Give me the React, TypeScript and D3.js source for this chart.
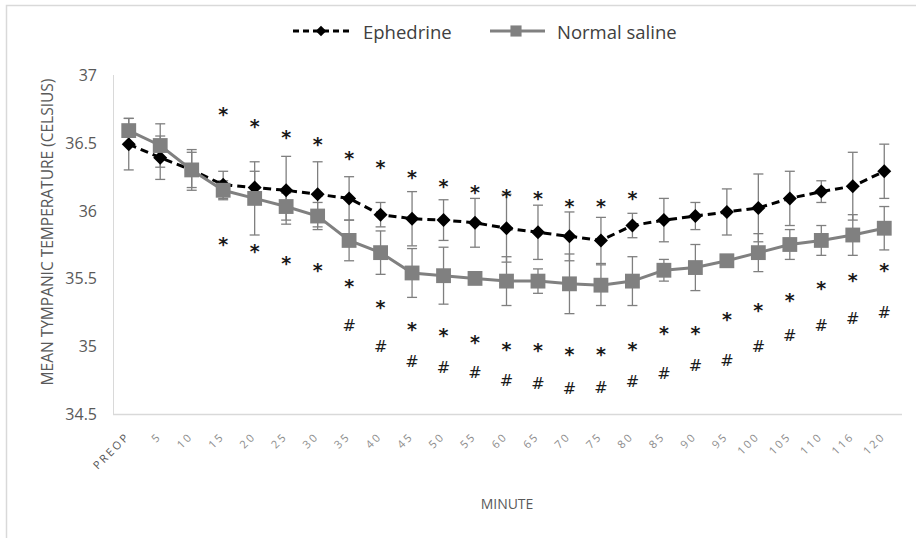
import React from "react";
import * as d3 from "d3";

const categories = ["PREOP","5","10","15","20","25","30","35","40","45","50","55","60","65","70","75","80","85","90","95","100","105","110","116","120"];
const ephedrine = [36.49,36.39,36.3,36.19,36.17,36.15,36.12,36.09,35.97,35.94,35.93,35.91,35.87,35.84,35.81,35.78,35.89,35.93,35.96,35.99,36.02,36.09,36.14,36.18,36.29];
const ephedrineErr = [0.19,0.16,0.13,0.1,0.12,0.25,0.24,0.16,0.09,0.2,0.15,0.18,0.25,0.2,0.18,0.17,0.09,0.16,0.1,0.17,0.25,0.2,0.08,0.25,0.2];
const saline = [36.59,36.48,36.3,36.15,36.09,36.03,35.96,35.78,35.69,35.54,35.52,35.5,35.48,35.48,35.46,35.45,35.48,35.56,35.58,35.63,35.69,35.75,35.78,35.82,35.87];
const salineErr = [0.09,0.16,0.15,0.07,0.27,0.1,0.1,0.15,0.16,0.18,0.21,0.03,0.18,0.09,0.22,0.15,0.18,0.08,0.17,0.03,0.14,0.11,0.11,0.15,0.16];
const starUpper: (number | null)[] = [null,null,null,36.74,36.65,36.57,36.52,36.42,36.35,36.28,36.21,36.17,36.14,36.12,36.06,36.06,36.12,null,null,null,null,null,null,null,null];
const starLower: (number | null)[] = [null,null,null,35.78,35.73,35.64,35.59,35.47,35.32,35.16,35.11,35.06,35.01,35.0,34.97,34.97,35.01,35.13,35.13,35.23,35.3,35.37,35.46,35.52,35.59];
const hashLower: (number | null)[] = [null,null,null,null,null,null,null,35.16,35.0,34.89,34.85,34.81,34.75,34.73,34.69,34.7,34.74,34.8,34.86,34.9,35.0,35.08,35.16,35.21,35.25];
const yTicks = [34.5,35,35.5,36,36.5,37];
const seriesNames = ["Ephedrine","Normal saline"];

const W = 916, H = 538;
const FONT = "'Open Sans', 'Noto Sans', sans-serif";

export default function App() {
  const x = d3.scaleBand<string>().domain(categories).range([113, 900]).padding(0);
  const cx = (c: string) => (x(c) as number) + x.bandwidth() / 2;
  const y = d3.scaleLinear().domain([34.5, 37]).range([414, 75]);

  const line = d3.line<number>().x((_, i) => cx(categories[i])).y((d) => y(d));
  const diamond = d3.symbol().type(d3.symbolDiamond2).size(125)();
  const square = d3.symbol().type(d3.symbolSquare).size(220)();

  const errBars = (vals: number[], errs: number[], color: string, key: string) =>
    vals.map((v, i) => {
      const xc = cx(categories[i]);
      const y1 = y(v + errs[i]);
      const y2 = y(v - errs[i]);
      return (
        <g key={key + i} stroke={color} strokeWidth={1.3}>
          <line x1={xc} x2={xc} y1={y1} y2={y2} />
          <line x1={xc - 5} x2={xc + 5} y1={y1} y2={y1} />
          <line x1={xc - 5} x2={xc + 5} y1={y2} y2={y2} />
        </g>
      );
    });

  const mark = (v: number | null, i: number, ch: string, k: string, dy: number, fs: number, fw: string) =>
    v === null ? null : (
      <text key={k + i} x={cx(categories[i])} y={y(v) + dy} textAnchor="middle" fontSize={fs} fontWeight={fw} fontFamily="'DejaVu Sans', sans-serif" fill="#1a1a1a">{ch}</text>
    );

  return (
    <svg width={W} height={H} style={{ position: "absolute", left: 0, top: 0, background: "#fff" }} fontFamily={FONT}>
      <rect x={0} y={0} width={W} height={H} fill="#fff" />
      <rect x={6.5} y={5.5} width={W + 20} height={H + 20} fill="none" stroke="#d9d9d9" strokeWidth={1.5} />

      {/* axes */}
      <line x1={113.5} x2={113.5} y1={75} y2={414} stroke="#d9d9d9" strokeWidth={1} />
      <line x1={113} x2={902} y1={414.5} y2={414.5} stroke="#d9d9d9" strokeWidth={1.5} />

      {yTicks.map((t) => (
        <text key={t} x={97} y={y(t)} textAnchor="end" dominantBaseline="central" fontSize={16} fill="#595959">
          {t}
        </text>
      ))}
      <text transform={`translate(47,${232}) rotate(-90)`} textAnchor="middle" dominantBaseline="central" fontSize={15.5} fill="#595959">
        MEAN TYMPANIC TEMPERATURE (CELSIUS)
      </text>

      {categories.map((c) => (
        <text key={c} transform={`translate(${cx(c) + 2},${437}) rotate(-45)`} textAnchor="end" fontSize={11} letterSpacing={2.4} fill={c === "PREOP" ? "#595959" : "#8c8c8c"}>
          {c}
        </text>
      ))}
      <text x={507} y={503} textAnchor="middle" dominantBaseline="central" fontSize={14} fill="#595959">MINUTE</text>

      {/* error bars */}
      {errBars(ephedrine, ephedrineErr, "#7f7f7f", "e")}
      {errBars(saline, salineErr, "#7f7f7f", "s")}

      {/* Ephedrine */}
      <path d={line(ephedrine) as string} fill="none" stroke="#000" strokeWidth={3} strokeDasharray="8,5" />
      {ephedrine.map((v, i) => (
        <path key={"d" + i} d={diamond as string} transform={`translate(${cx(categories[i])},${y(v)})`} fill="#000" />
      ))}

      {/* Normal saline */}
      <path d={line(saline) as string} fill="none" stroke="#808080" strokeWidth={3} />
      {saline.map((v, i) => (
        <path key={"q" + i} d={square as string} transform={`translate(${cx(categories[i])},${y(v)})`} fill="#808080" />
      ))}

      {/* annotations */}
      {starUpper.map((v, i) => mark(v, i, "*", "su", 11, 19, "bold"))}
      {starLower.map((v, i) => mark(v, i, "*", "sl", 11, 19, "bold"))}
      {hashLower.map((v, i) => mark(v, i, "#", "h", 6, 16, "normal"))}

      {/* legend */}
      <g>
        <line x1={293} x2={350} y1={31} y2={31} stroke="#000" strokeWidth={3} strokeDasharray="6,4" />
        <path d={diamond as string} transform="translate(321,31) scale(0.75)" fill="#000" />
        <text x={363} y={31} dominantBaseline="central" fontSize={18.5} fill="#404040">{seriesNames[0]}</text>
        <line x1={490} x2={545} y1={31} y2={31} stroke="#808080" strokeWidth={3} />
        <path d={square as string} transform="translate(516,31) scale(0.75)" fill="#808080" />
        <text x={557} y={31} dominantBaseline="central" fontSize={18.5} fill="#404040">{seriesNames[1]}</text>
      </g>
    </svg>
  );
}
